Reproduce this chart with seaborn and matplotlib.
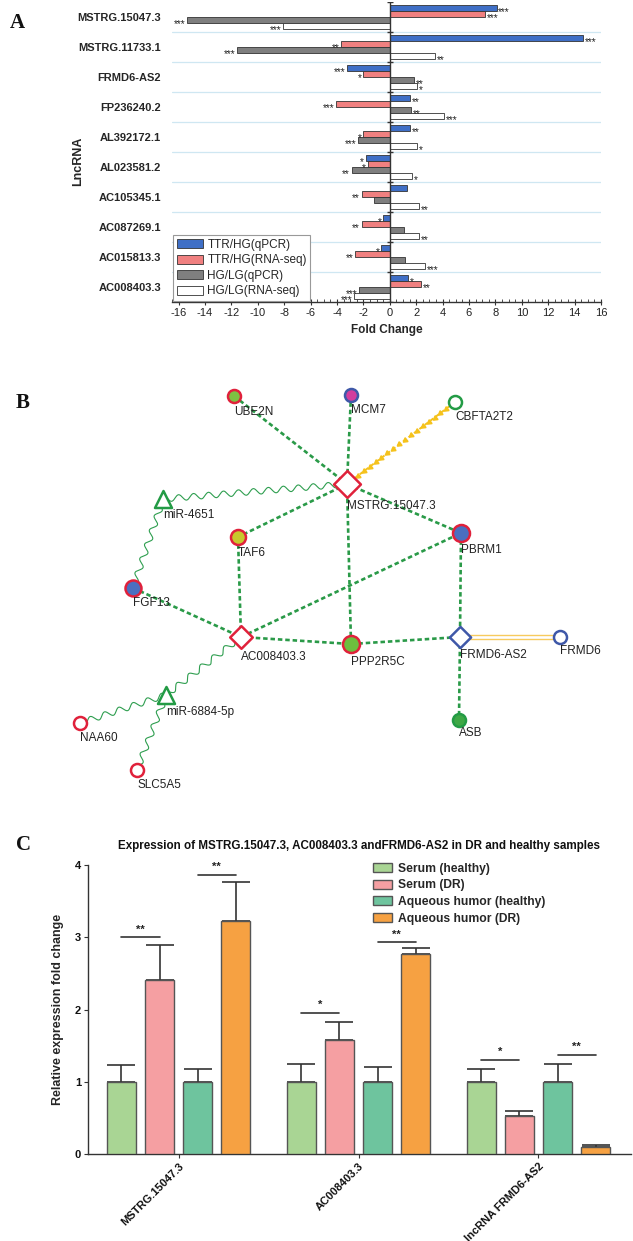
import numpy as np
import pandas as pd
import matplotlib
matplotlib.use("Agg")
import matplotlib.pyplot as plt
import seaborn as sns
from matplotlib.ticker import MultipleLocator

sns.set_theme(style="white")
plt.rcParams["font.family"] = ["Liberation Sans", "DejaVu Sans"]

# ---------------- Panel A data ----------------
lncrnas = ["MSTRG.15047.3", "MSTRG.11733.1", "FRMD6-AS2", "FP236240.2", "AL392172.1",
           "AL023581.2", "AC105345.1", "AC087269.1", "AC015813.3", "AC008403.3"]
series_a = ["TTR/HG(qPCR)", "TTR/HG(RNA-seq)", "HG/LG(qPCR)", "HG/LG(RNA-seq)"]
ttr_qpcr = [8.1, 14.65, -3.24, 1.53, 1.53, -1.83, 1.31, -0.49, -0.64, 1.41]
ttr_rnaseq = [7.2, -3.67, -2.02, -4.04, -2.0, -1.68, -2.14, -2.14, -2.6, 2.39]
hglg_qpcr = [-15.35, -11.6, 1.83, 1.62, -2.39, -2.9, -1.16, 1.1, 1.16, -2.35]
hglg_rnaseq = [-8.07, 3.42, 2.05, 4.1, 2.05, 1.71, 2.23, 2.23, 2.69, -2.72]
sig_ttr_qpcr = ["***", "***", "***", "**", "**", "*", "", "*", "*", "*"]
sig_ttr_rnaseq = ["***", "**", "*", "***", "*", "*", "**", "**", "**", "**"]
sig_hglg_qpcr = ["***", "***", "**", "**", "***", "**", "", "", "", "***"]
sig_hglg_rnaseq = ["***", "**", "*", "***", "*", "*", "**", "**", "***", "***"]
colors_a = ["#3F6FC6", "#F08080", "#7F7F7F", "#FFFFFF"]

# ---------------- Panel B data ----------------
node_names = ["UBE2N", "MCM7", "CBFTA2T2", "MSTRG.15047.3", "miR-4651", "TAF6", "PBRM1",
              "FGF13", "AC008403.3", "PPP2R5C", "FRMD6-AS2", "FRMD6", "miR-6884-5p",
              "NAA60", "SLC5A5", "ASB"]
node_x = [234, 351, 455, 347, 163, 238, 461, 133, 241, 351, 460, 560, 166, 80, 137, 459]
node_y = [396, 395, 402, 484, 499, 537, 533, 588, 637, 644, 637, 637, 695, 723, 770, 720]
node_marker = ["o", "o", "o", "D", "^", "o", "o", "o", "D", "o", "D", "o", "^", "o", "o", "o"]
node_diam = [13, 13, 13, 19, 17, 15, 17, 16, 16, 17, 15, 13, 17, 13, 13, 13]
node_face = ["#7DC242", "#D33D9E", "white", "white", "white", "#C8C82C", "#4A6FC0",
             "#4A6FC0", "white", "#6DBE3E", "white", "white", "white", "white", "white", "#3EA845"]
node_edge = ["#E0213B", "#3F58A8", "#239B45", "#E0213B", "#239B45", "#E0213B", "#E0213B",
             "#E0213B", "#E0213B", "#E0213B", "#3F58A8", "#3F58A8", "#239B45", "#E0213B",
             "#E0213B", "#239B45"]
label_dy = [16, 15, 15, 22, 16, 16, 17, 15, 20, 18, 18, 14, 17, 15, 15, 13]
edges = [("UBE2N", "MSTRG.15047.3", "dash"), ("MCM7", "MSTRG.15047.3", "dash"),
         ("CBFTA2T2", "MSTRG.15047.3", "arrow"), ("MSTRG.15047.3", "miR-4651", "wave"),
         ("MSTRG.15047.3", "TAF6", "dash"), ("MSTRG.15047.3", "PBRM1", "dash"),
         ("MSTRG.15047.3", "PPP2R5C", "dash"), ("miR-4651", "FGF13", "wave"),
         ("TAF6", "AC008403.3", "dash"), ("FGF13", "AC008403.3", "dash"),
         ("AC008403.3", "PBRM1", "dash"), ("AC008403.3", "PPP2R5C", "dash"),
         ("PPP2R5C", "FRMD6-AS2", "dash"), ("PBRM1", "FRMD6-AS2", "dash"),
         ("FRMD6-AS2", "FRMD6", "double"), ("FRMD6-AS2", "ASB", "dash"),
         ("AC008403.3", "miR-6884-5p", "wave"), ("miR-6884-5p", "NAA60", "wave"),
         ("miR-6884-5p", "SLC5A5", "wave")]

# ---------------- Panel C data ----------------
genes = ["MSTRG.15047.3", "AC008403.3", "lncRNA FRMD6-AS2"]
samples = ["Serum (healthy)", "Serum (DR)", "Aqueous humor (healthy)", "Aqueous humor (DR)"]
serum_healthy = [1.0, 1.0, 1.0]
serum_dr = [2.41, 1.58, 0.52]
aq_healthy = [1.0, 1.0, 1.0]
aq_dr = [3.22, 2.77, 0.10]
serum_healthy_err = [1.23, 1.25, 1.18]
serum_dr_err = [2.89, 1.83, 0.60]
aq_healthy_err = [1.18, 1.21, 1.24]
aq_dr_err = [3.77, 2.85, 0.12]
sig_serum_h = [3.0, 1.95, 1.30]
sig_serum_lab = ["**", "*", "*"]
sig_aq_h = [3.86, 2.93, 1.37]
sig_aq_lab = ["**", "**", "**"]
colors_c = ["#A9D594", "#F59FA2", "#6EC49E", "#F6A142"]

W, H = 633, 1241
fig = plt.figure(figsize=(W / 100, H / 100), dpi=100)


def box(l, r, t, b):
    return [l / W, 1 - b / H, (r - l) / W, (b - t) / H]


# ================= Panel A =================
axA = fig.add_axes(box(172, 601, 2, 302))
dfA = pd.DataFrame({
    "lncRNA": lncrnas * 4,
    "series": sum([[s] * len(lncrnas) for s in series_a], []),
    "fc": ttr_qpcr + ttr_rnaseq + hglg_qpcr + hglg_rnaseq,
})
sns.barplot(data=dfA, y="lncRNA", x="fc", hue="series", orient="h", palette=colors_a,
            saturation=1, width=0.8, edgecolor="#333333", linewidth=0.6, ax=axA, zorder=2)
axA.set_xlim(-16.5, 16)
axA.set_ylim(len(lncrnas) - 0.5, -0.5)
for b in np.arange(0.5, len(lncrnas) - 0.5, 1):
    axA.axhline(b, color="#CFE7F2", lw=0.9, zorder=0)
axA.axvline(0, color="#333333", lw=1.0, zorder=3)
axA.plot(np.zeros(len(lncrnas) + 1), np.arange(-0.5, len(lncrnas) + 0.5, 1), ls="none",
         marker="_", ms=5, mew=1.0, color="#333333", zorder=3)
all_vals = [ttr_qpcr, ttr_rnaseq, hglg_qpcr, hglg_rnaseq]
all_sig = [sig_ttr_qpcr, sig_ttr_rnaseq, sig_hglg_qpcr, sig_hglg_rnaseq]
for j in range(4):
    for i in range(len(lncrnas)):
        v = all_vals[j][i]
        s = all_sig[j][i]
        if not s:
            continue
        y = i - 0.3 + 0.2 * j + 0.13
        if v >= 0:
            axA.text(v + 0.12, y, s, ha="left", va="center", fontsize=7.2, color="#222222")
        else:
            axA.text(v - 0.12, y, s, ha="right", va="center", fontsize=7.2, color="#222222")
for sp in ["top", "right", "left"]:
    axA.spines[sp].set_visible(False)
axA.spines["bottom"].set_color("#333333")
axA.spines["bottom"].set_linewidth(1.0)
axA.xaxis.set_major_locator(MultipleLocator(2))
axA.xaxis.set_minor_locator(MultipleLocator(0.5))
axA.tick_params(axis="x", which="major", direction="inout", length=5, width=0.8,
                labelsize=8, pad=2, bottom=True, colors="#333333", labelcolor="#222222")
axA.tick_params(axis="x", which="minor", direction="in", length=2.5, width=0.6,
                bottom=True, colors="#333333")
axA.tick_params(axis="y", length=0, pad=8, labelsize=8)
for lab in axA.get_yticklabels():
    lab.set_fontweight("bold")
axA.set_xticks(np.arange(-16, 17, 2))
axA.set_xticklabels([str(v) for v in range(-16, 17, 2)])
axA.set_xlabel("Fold Change", fontsize=8.5, fontweight="bold", labelpad=4)
axA.set_ylabel("LncRNA", fontsize=9, fontweight="bold")
axA.yaxis.set_label_coords(-0.205, 0.47)
axA.grid(False)
legA = axA.legend(loc="lower left", bbox_to_anchor=(0.0, 0.0), fontsize=8.5, frameon=True,
                  fancybox=False, edgecolor="#999999", framealpha=1, handlelength=2.2,
                  handleheight=0.8, labelspacing=0.3, borderpad=0.3, handletextpad=0.4,
                  borderaxespad=0.1)
legA.get_frame().set_linewidth(0.8)

# ================= Panel B =================
axB = fig.add_axes([0, 1 - 850 / H, 1, 480 / H])
axB.set_xlim(0, W)
axB.set_ylim(850, 370)
axB.axis("off")
pos = {n: (x, y) for n, x, y in zip(node_names, node_x, node_y)}
green = "#2A9A48"
for a, b, style in edges:
    (x0, y0), (x1, y1) = pos[a], pos[b]
    if style == "dash":
        axB.plot([x0, x1], [y0, y1], color=green, lw=1.9, dashes=(1.7, 1.1), zorder=1,
                 solid_capstyle="butt")
    elif style == "wave":
        d = np.hypot(x1 - x0, y1 - y0)
        t = np.linspace(0, 1, 400)
        nx, ny = -(y1 - y0) / d, (x1 - x0) / d
        wv = 3.0 * np.sin(2 * np.pi * t * d / 15.0)
        axB.plot(x0 + t * (x1 - x0) + wv * nx, y0 + t * (y1 - y0) + wv * ny,
                 color="#2E9E4F", lw=0.8, zorder=1)
    elif style == "arrow":
        axB.plot([x0, x1], [y0, y1], color="#F5C21B", lw=1.4, dashes=(2, 1.5), zorder=1)
        ang = np.degrees(np.arctan2(-(y1 - y0), x1 - x0)) - 90
        t = np.linspace(0.08, 0.9, 16)
        axB.plot(x0 + t * (x1 - x0), y0 + t * (y1 - y0), ls="none",
                 marker=(3, 0, ang), ms=4, color="#F5C21B", mec="#F5C21B", zorder=1)
    elif style == "double":
        for off in (-2, 2):
            axB.plot([x0, x1], [y0 + off, y1 + off], color="#F7CB5E", lw=1.0, zorder=1)
for i, n in enumerate(node_names):
    d = node_diam[i] * 0.72
    axB.scatter([node_x[i]], [node_y[i]], s=d ** 2, marker=node_marker[i], c=node_face[i],
                edgecolors=node_edge[i], linewidths=1.8, zorder=3)
    axB.text(node_x[i], node_y[i] + label_dy[i], n, ha="left", va="center", fontsize=8.5,
             color="#222222", zorder=4)

# ================= Panel C =================
axC = fig.add_axes(box(88, 631, 865, 1154))
dfC = pd.DataFrame({
    "gene": genes * 4,
    "sample": sum([[s] * len(genes) for s in samples], []),
    "value": serum_healthy + serum_dr + aq_healthy + aq_dr,
})
errs = [serum_healthy_err, serum_dr_err, aq_healthy_err, aq_dr_err]
means = [serum_healthy, serum_dr, aq_healthy, aq_dr]
bw = 0.845
sns.barplot(data=dfC, x="gene", y="value", hue="sample", palette=colors_c, saturation=1,
            width=bw, gap=0.24, edgecolor="#555555", linewidth=1.0, errorbar=None, ax=axC,
            zorder=3)
step = bw / 4
for j in range(4):
    xc = np.arange(len(genes)) - bw / 2 + step / 2 + j * step
    m = np.array(means[j])
    e = np.array(errs[j]) - m
    axC.errorbar(xc, m, yerr=[np.zeros_like(e), e], fmt="none", ecolor="#333333",
                 elinewidth=1.2, capsize=10, capthick=1.2, zorder=2)
for g in range(len(genes)):
    for (j0, hh, lab) in [(0, sig_serum_h[g], sig_serum_lab[g]), (2, sig_aq_h[g], sig_aq_lab[g])]:
        xa = g - bw / 2 + step / 2 + j0 * step
        xb = xa + step
        axC.plot([xa, xb], [hh, hh], color="#333333", lw=1.2, zorder=4)
        axC.text((xa + xb) / 2, hh + 0.04, lab, ha="center", va="bottom", fontsize=8,
                 fontweight="bold", color="#222222")
axC.set_xlim(-0.503, 2.514)
axC.set_ylim(0, 4)
axC.set_yticks([0, 1, 2, 3, 4])
for sp in ["top", "right"]:
    axC.spines[sp].set_visible(False)
for sp in ["left", "bottom"]:
    axC.spines[sp].set_color("#333333")
    axC.spines[sp].set_linewidth(1.0)
axC.tick_params(axis="both", length=3, width=0.8, colors="#333333", labelsize=8,
                labelcolor="#111111", left=True, bottom=True, pad=2)
axC.set_xticks(range(len(genes)))
axC.set_xticklabels(genes, rotation=45, ha="right", rotation_mode="anchor", fontweight="bold")
for lab in axC.get_yticklabels():
    lab.set_fontweight("bold")
axC.set_xlabel("")
axC.set_ylabel("Relative expression fold change", fontsize=9, fontweight="bold", labelpad=8)
axC.grid(False)
legC = axC.legend(loc="upper left", bbox_to_anchor=(0.505, 1.045), frameon=False,
                  prop={"size": 8.7, "weight": "bold"}, handlelength=1.6, handleheight=0.8,
                  labelspacing=0.38, handletextpad=0.5)
fig.text(359 / W, 1 - 846 / H,
         "Expression of MSTRG.15047.3, AC008403.3 andFRMD6-AS2 in DR and healthy samples",
         ha="center", va="center", fontsize=8.4, fontweight="bold", color="#111111")

# panel letters
for letter, (x, y) in {"A": (10, 23), "B": (16, 403), "C": (16, 845)}.items():
    fig.text(x / W, 1 - y / H, letter, ha="left", va="center", fontsize=15, fontweight="bold",
             family="Liberation Serif", color="#111111")

fig.savefig("out.png", dpi=100)
